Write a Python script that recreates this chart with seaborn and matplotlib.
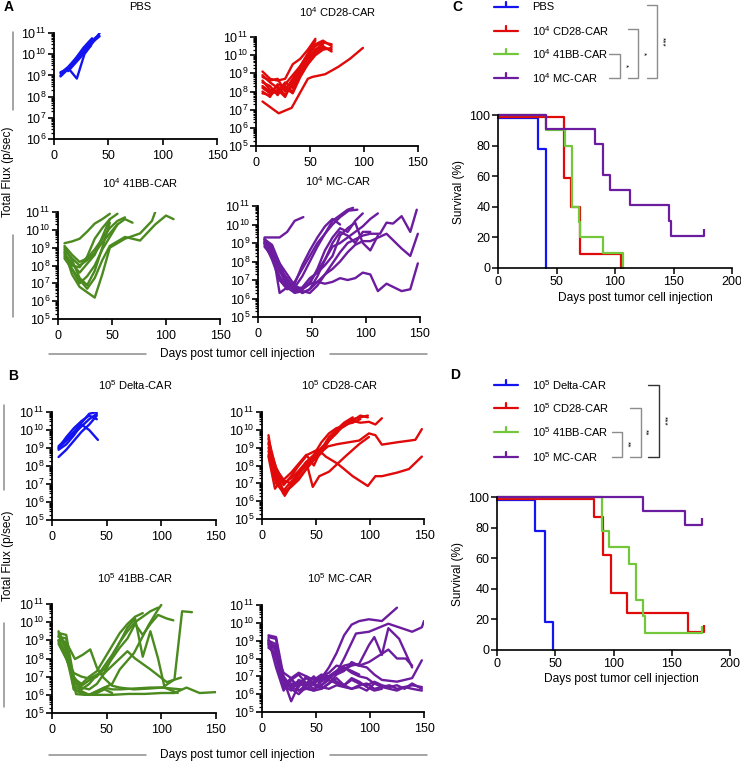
import numpy as np
import pandas as pd
import seaborn as sns
import matplotlib.pyplot as plt
from matplotlib.ticker import FixedLocator, LogLocator, FuncFormatter, NullFormatter

# ---- colours
BLUE = '#1414f0'
RED = '#e00a0a'
GREEN_FLUX = '#4b8a1e'
GREEN_SURV = '#72c83a'
PURPLE = '#6c1c9e'

# ---- A: 10^4 dose, bioluminescence (log10 total flux)
pbs_days = [
    [6, 13, 20, 27, 34, 41],
    [6, 13, 20, 27, 35],
    [6, 13, 21, 28, 42],
    [6, 13, 20, 27, 34, 42],
    [13, 20, 27, 34],
]
pbs_log = [
    [9.1, 9.4, 9.8, 10.2, 10.6, 10.9],
    [8.95, 9.3, 9.8, 10.3, 10.75],
    [9.0, 9.35, 8.85, 10.0, 11.0],
    [9.15, 9.3, 9.7, 10.1, 10.5, 10.85],
    [9.2, 9.6, 10.0, 10.4],
]

cd28_a_days = [
    [6, 13, 20, 27, 34, 41, 48, 55],
    [6, 13, 20, 27, 34, 41, 48, 55, 62, 70],
    [6, 13, 20, 27, 34, 41, 48, 55, 62],
    [6, 13, 20, 27, 34, 41, 48, 55, 62, 70],
    [6, 13, 20, 27, 34, 41, 48, 55, 62, 70],
    [6, 13, 20, 27, 34, 41, 48, 55],
    [6, 13, 20, 27, 34, 41, 48, 55, 62, 70],
    [6, 13, 20, 27, 34, 41, 48, 55, 62],
    [6, 13, 20, 27, 34, 41, 48, 55, 62, 70],
    [6, 21, 33, 48, 52, 64, 76, 87, 99],
]
cd28_a_log = [
    [9.1, 8.7, 8.6, 8.7, 9.5, 9.8, 10.3, 10.9],
    [8.9, 8.5, 8.2, 8.1, 8.7, 9.4, 10.0, 10.5, 10.7, 10.6],
    [8.6, 8.1, 7.9, 8.3, 8.0, 9.0, 9.8, 10.3, 10.6],
    [8.3, 8.0, 8.3, 7.8, 8.5, 9.2, 9.9, 10.6, 10.8, 10.5],
    [8.0, 7.7, 8.4, 8.2, 7.9, 8.8, 9.5, 10.2, 10.4, 10.3],
    [8.5, 8.3, 7.8, 8.4, 8.9, 9.4, 10.1, 10.8],
    [8.8, 8.6, 8.7, 8.0, 8.3, 9.0, 9.6, 10.1, 10.5, 10.2],
    [8.2, 7.9, 8.0, 8.5, 8.2, 8.9, 9.7, 10.3, 10.6],
    [7.9, 7.8, 8.1, 7.7, 8.6, 9.1, 9.5, 10.0, 10.3, 10.4],
    [7.45, 6.8, 7.1, 8.7, 8.8, 8.95, 9.35, 9.8, 10.4],
]

bb_a_days = [
    [6, 13, 20, 27, 34, 41, 48],
    [6, 13, 20, 27, 34, 41, 48, 55, 62],
    [6, 13, 20, 27, 34, 41, 48, 55, 62, 69],
    [6, 13, 20, 27, 34, 41, 48],
    [6, 13, 20, 27, 34, 41, 48, 55],
    [6, 13, 20, 27, 34, 41, 48, 62, 76, 87, 90],
    [6, 13, 20, 27, 34, 41, 48, 62, 76, 90, 100, 107],
    [6, 13, 20, 27, 34, 41, 48, 55],
    [6, 13, 20, 27, 34, 41, 48],
]
bb_a_log = [
    [9.25, 9.35, 9.5, 9.9, 10.35, 10.6, 10.9],
    [9.1, 8.6, 8.2, 8.4, 8.9, 9.5, 10.1, 10.5, 10.7],
    [8.9, 8.4, 8.0, 8.3, 8.7, 9.3, 9.8, 10.3, 10.6, 10.4],
    [8.7, 8.1, 7.6, 8.1, 8.6, 9.6, 10.6],
    [8.5, 7.8, 7.0, 7.4, 8.0, 8.9, 9.6, 10.3],
    [8.8, 7.5, 6.8, 6.5, 6.2, 7.5, 9.0, 9.5, 9.8, 10.5, 11.0],
    [8.4, 7.8, 7.2, 6.7, 7.3, 8.3, 9.1, 9.6, 9.4, 10.3, 10.8, 10.6],
    [8.6, 8.0, 7.9, 8.5, 9.5, 10.1, 10.6, 10.9],
    [9.0, 8.3, 7.3, 6.9, 7.7, 9.0, 10.4],
]

mc_a_days = [
    [6, 13, 20, 27, 34, 42],
    [6, 13, 20, 27, 34, 41, 48, 55, 62, 69, 76, 83, 88],
    [6, 13, 20, 27, 34, 41, 48, 55, 62, 69, 76, 84, 92],
    [6, 13, 20, 27, 34, 41, 48, 55, 62, 69, 76, 83, 90, 97, 104, 111],
    [6, 13, 20, 27, 34, 41, 48, 55, 62, 69, 76, 83, 90, 97, 104, 113, 119, 125, 133, 141, 147],
    [6, 13, 20, 27, 34, 41, 48, 55, 62, 69, 76, 83, 90, 97, 104, 119, 133, 141, 148],
    [6, 13, 20, 27, 34, 41, 48, 55, 62, 69, 76, 83, 90, 97, 104, 111, 119, 133, 141, 148],
    [6, 13, 20, 27, 34, 41, 48, 55, 62, 69, 76, 83, 90, 97, 104],
    [6, 13, 20, 27, 34, 41, 48, 55, 62, 69, 76],
    [6, 13, 20, 27, 34, 41, 48, 55, 62, 69, 76, 83, 90, 97, 104, 111],
    [6, 13, 20, 27, 34, 41, 48, 55, 62, 69, 76, 83, 90, 97],
]
mc_a_log = [
    [9.3, 9.3, 9.3, 9.6, 10.2, 10.4],
    [9.2, 8.8, 6.3, 6.6, 6.9, 7.6, 8.3, 9.0, 9.5, 10.2, 10.5, 10.8, 10.9],
    [9.0, 8.5, 7.5, 6.7, 6.6, 7.2, 8.0, 8.8, 9.5, 10.0, 10.4, 10.75, 10.8],
    [9.1, 8.6, 7.8, 6.9, 6.4, 6.5, 6.9, 7.5, 8.1, 8.8, 9.0, 9.3, 9.6, 9.9, 10.3, 10.6],
    [8.9, 8.2, 7.2, 6.6, 6.3, 6.4, 6.3, 6.7, 7.3, 7.9, 8.5, 9.0, 9.2, 9.4, 9.5, 9.5, 10.1, 10.05, 10.45, 9.6, 10.8],
    [9.0, 8.4, 7.0, 6.5, 6.6, 6.3, 6.5, 6.9, 7.3, 7.6, 8.0, 8.5, 8.9, 9.1, 9.1, 9.5, 8.7, 8.3, 9.5],
    [9.1, 8.5, 7.5, 6.9, 6.7, 6.5, 6.8, 6.9, 6.8, 6.9, 7.1, 7.0, 7.1, 7.4, 7.3, 6.4, 6.8, 6.4, 6.5, 7.9],
    [9.2, 8.9, 7.9, 7.3, 6.7, 6.3, 6.5, 7.2, 8.1, 9.0, 9.6, 9.4, 9.0, 9.6, 9.6],
    [9.0, 8.1, 7.0, 6.6, 6.8, 7.8, 8.6, 9.3, 9.9, 10.3, 10.0],
    [8.8, 8.3, 7.6, 7.1, 6.5, 6.6, 7.1, 7.4, 7.8, 8.3, 9.4, 9.8, 10.1, 9.0, 8.6, 9.4],
    [9.2, 8.7, 7.9, 6.8, 6.4, 6.5, 6.8, 7.6, 8.6, 9.3, 9.8, 9.6, 10.2, 10.6],
]

# ---- B: 10^5 dose
delta_days = [
    [6, 13, 20, 27, 34, 41],
    [6, 13, 20, 27, 34, 41],
    [6, 13, 20, 27, 34, 41],
    [6, 13, 20, 27, 34, 42],
    [6, 13, 20, 27, 34, 41],
]
delta_log = [
    [9.0, 9.4, 9.8, 10.2, 10.6, 10.9],
    [8.5, 8.9, 9.4, 9.9, 10.3, 10.8],
    [9.1, 9.5, 9.9, 10.4, 10.9, 11.0],
    [8.9, 9.2, 9.7, 10.3, 10.0, 9.45],
    [9.0, 9.6, 10.1, 10.5, 10.8, 10.6],
]

cd28_b_days = [
    [6, 10, 21, 27, 34, 41, 48, 55, 62, 69, 76, 84, 91, 98],
    [6, 12, 18, 27, 34, 41, 48, 55, 62, 69, 76, 84, 91, 99, 105, 111],
    [6, 13, 20, 27, 34, 42, 52, 59, 70, 84, 98, 105, 111, 125, 136, 148],
    [6, 13, 20, 27, 34, 41, 50, 61, 70, 80, 90, 99, 105, 111, 125, 142, 148],
    [6, 13, 20, 27, 34, 41, 47, 53, 62, 77, 90, 99],
    [6, 13, 20, 27, 34, 41, 48, 55, 62, 69, 76, 84, 91, 98],
    [6, 13, 20, 27, 34, 41, 48, 55, 62, 69, 76, 84, 91],
    [6, 13, 20, 27, 34, 41, 48, 55, 62, 69, 76, 84],
]
cd28_b_log = [
    [9.7, 8.1, 6.3, 6.9, 7.3, 7.8, 8.4, 8.8, 9.4, 9.9, 10.3, 10.6, 10.7, 10.8],
    [8.5, 6.7, 7.2, 7.0, 7.5, 8.0, 8.5, 9.0, 9.4, 9.9, 10.2, 10.5, 10.4, 10.45, 10.3, 10.65],
    [9.3, 7.6, 6.9, 7.4, 8.0, 8.6, 8.9, 8.5, 8.1, 7.4, 6.85, 7.4, 7.4, 7.6, 7.8, 8.5],
    [9.0, 7.4, 6.6, 7.1, 7.6, 8.1, 8.5, 9.07, 9.2, 9.3, 9.4, 9.8, 9.7, 9.17, 9.3, 9.44, 10.04],
    [8.8, 7.2, 6.4, 6.9, 7.5, 8.2, 6.8, 7.4, 7.65, 8.5, 9.2, 9.6],
    [9.2, 7.9, 7.0, 7.3, 7.7, 8.2, 8.6, 9.3, 9.8, 10.1, 10.2, 10.5, 10.8, 10.7],
    [8.6, 7.0, 6.5, 6.8, 7.2, 7.8, 8.3, 8.7, 9.4, 9.8, 10.3, 10.4, 10.6],
    [9.5, 7.8, 7.2, 7.6, 8.1, 8.6, 8.0, 8.9, 9.6, 10.0, 10.4, 10.7],
]

bb_b_days = [
    [6, 13, 22, 30, 44, 55, 70, 85, 100, 112, 123, 135, 150],
    [6, 13, 21, 28, 35, 41, 47, 55, 62, 75, 90, 100, 118],
    [6, 13, 20, 27, 34, 41, 48, 55, 62, 75, 88, 97, 100],
    [6, 13, 20, 27, 34, 41, 48, 55, 62, 69, 76, 83, 90, 97],
    [6, 13, 20, 27, 34, 41, 48, 55, 62, 69, 76, 83, 90, 97, 103, 115],
    [6, 13, 20, 27, 34, 41, 48, 55, 62, 69, 76, 83, 90, 97, 105, 111],
    [6, 13, 20, 27, 34, 41, 48, 55, 62, 76, 90, 101, 112, 119, 128],
    [6, 13, 20, 27, 34, 41, 48, 55, 62, 69, 76, 90, 105, 118],
    [6, 13, 20, 27, 34, 41, 48, 55, 62, 69, 76, 83],
    [6, 13, 20, 27, 34, 41, 48, 55],
]
bb_b_log = [
    [9.5, 8.6, 6.04, 6.0, 6.0, 6.0, 6.05, 6.05, 6.1, 6.1, 6.4, 6.1, 6.15],
    [9.0, 8.9, 7.97, 8.2, 8.5, 7.5, 6.95, 6.5, 6.4, 6.3, 6.35, 6.4, 6.3],
    [9.2, 9.1, 6.5, 6.2, 6.0, 6.2, 6.4, 6.6, 7.4, 8.3, 9.8, 10.7, 10.95],
    [8.8, 8.0, 6.8, 6.5, 6.8, 7.0, 7.6, 8.2, 8.9, 9.5, 10.0, 10.3, 10.6, 10.8],
    [9.3, 8.5, 7.0, 6.4, 6.3, 6.6, 7.2, 8.1, 8.9, 9.7, 10.2, 8.1, 9.5, 8.0, 6.4, 6.1],
    [9.0, 8.3, 6.7, 6.3, 6.6, 7.1, 7.4, 8.0, 8.6, 9.1, 9.9, 9.3, 9.9, 10.4, 10.2, 10.1],
    [9.0, 8.2, 6.3, 6.1, 6.0, 6.2, 6.4, 6.3, 6.3, 6.35, 6.4, 6.4, 6.85, 10.6, 10.55],
    [8.9, 8.0, 7.2, 7.0, 6.9, 7.1, 7.2, 7.6, 8.0, 8.4, 8.0, 7.4, 6.7, 6.95],
    [9.4, 9.3, 6.9, 6.6, 7.0, 7.3, 8.0, 8.7, 9.4, 9.9, 10.3, 10.5],
    [9.2, 8.8, 6.3, 6.1, 6.0, 6.1, 6.3, 6.1],
]

mc_b_days = [
    [6, 13, 20, 27, 34, 41, 48, 55, 62, 69, 76, 83, 90, 99, 111, 125],
    [6, 13, 20, 27, 34, 41, 48, 55, 62, 69, 76, 87, 99, 117, 139, 148, 150],
    [6, 13, 20, 27, 34, 41, 48, 55, 62, 69, 76, 83, 90, 99, 104, 111, 117, 127, 139],
    [6, 13, 20, 27, 34, 41, 48, 55, 62, 69, 76, 83, 90, 99, 117, 125, 133, 139],
    [6, 13, 20, 27, 34, 41, 48, 55, 62, 69, 76, 83, 90, 97, 104, 111, 118, 125, 132, 139, 148],
    [6, 13, 20, 27, 34, 41, 48, 55, 62, 69, 76, 83, 90, 97, 104, 111, 118, 125, 132, 139, 148],
    [6, 13, 20, 27, 34, 41, 48, 55, 62, 69, 76, 83, 90, 97, 104, 111, 125, 139, 148],
    [6, 13, 20, 27, 34, 41, 48, 55, 62, 69, 76, 83, 90, 97, 104, 111, 118, 125, 132, 139, 148],
    [6, 13, 20, 27, 34, 41, 48, 55, 62, 69, 76, 83, 90, 97, 104],
    [6, 13, 20, 27, 34, 41, 48, 55, 62, 69, 76, 83, 90, 97, 104, 111],
    [6, 13, 20, 27, 34, 41, 48, 55, 62, 69, 76, 83, 90],
]
mc_b_log = [
    [9.3, 9.2, 7.0, 6.4, 6.6, 6.5, 6.7, 6.9, 7.5, 8.3, 9.3, 9.9, 10.1, 10.2, 10.1, 10.85],
    [9.0, 8.8, 6.5, 6.2, 6.8, 6.6, 6.3, 6.5, 6.9, 7.2, 8.0, 9.4, 9.5, 9.95, 9.5, 9.75, 10.1],
    [8.8, 8.0, 6.3, 6.8, 7.1, 6.6, 6.9, 6.7, 7.0, 7.2, 7.4, 7.6, 7.7, 8.75, 9.2, 8.2, 9.7, 9.1, 7.5],
    [8.6, 8.3, 6.8, 5.6, 6.5, 6.9, 6.6, 6.9, 7.0, 7.3, 7.6, 7.7, 7.6, 7.8, 8.5, 8.0, 8.0, 7.6],
    [9.2, 9.1, 6.5, 6.4, 6.2, 6.3, 6.6, 6.4, 6.3, 6.5, 6.4, 6.3, 6.5, 6.6, 6.3, 6.4, 6.3, 6.2, 6.4, 6.3, 6.2],
    [8.9, 8.6, 6.9, 6.3, 6.0, 6.4, 6.2, 6.8, 7.0, 6.7, 6.5, 6.8, 6.6, 6.5, 6.7, 6.5, 6.4, 6.5, 6.3, 6.6, 6.3],
    [8.7, 8.2, 7.2, 6.9, 7.2, 7.0, 6.5, 6.3, 6.6, 7.1, 7.3, 7.8, 7.6, 7.5, 7.1, 6.8, 6.7, 6.9, 7.9],
    [9.0, 8.4, 6.6, 6.5, 6.7, 6.3, 6.2, 6.3, 6.6, 6.9, 6.5, 6.3, 6.4, 6.2, 6.6, 6.4, 6.5, 6.3, 6.4, 6.5, 6.4],
    [8.8, 8.7, 6.4, 6.6, 6.4, 7.0, 6.8, 7.1, 7.0, 7.3, 7.5, 7.2, 7.0, 6.9, 6.6],
    [9.1, 7.5, 6.2, 6.8, 6.5, 6.6, 7.0, 6.5, 6.8, 6.6, 6.5, 6.9, 6.7, 6.4, 6.2, 6.3],
    [8.9, 8.0, 6.5, 6.9, 6.2, 6.5, 6.7, 7.0, 7.2, 7.6, 7.5, 7.3, 7.1],
]

# ---- C / D: Kaplan-Meier steps (day of each step, percent surviving)
c_pbs_t, c_pbs_s = [0, 34, 41], [98, 78, 0]
c_cd28_t, c_cd28_s = [0, 56, 62, 70, 105], [99, 59, 40, 9, 0]
c_bb_t, c_bb_s = [0, 41, 57, 63, 69, 70, 90, 107], [100, 90, 80, 40, 30, 20, 10, 0]
c_mc_t, c_mc_s = [0, 41, 83, 90, 96, 113, 146, 148, 176], [100, 91, 81, 61, 51, 41, 31, 21, 21]

d_delta_t, d_delta_s = [0, 33, 41, 48], [98, 78, 18, 0]
d_cd28_t, d_cd28_s = [0, 83, 91, 98, 112, 164, 178], [99, 87, 62, 37, 24, 12, 12]
d_bb_t, d_bb_s = [0, 90, 96, 113, 119, 125, 127, 176], [100, 78, 67, 56, 33, 22, 11, 11]
d_mc_t, d_mc_s = [0, 125, 161, 176], [100, 91, 82, 82]

c_labels = ['PBS', r'$10^4$ CD28-CAR', r'$10^4$ 41BB-CAR', r'$10^4$ MC-CAR']
d_labels = [r'$10^5$ Delta-CAR', r'$10^5$ CD28-CAR', r'$10^5$ 41BB-CAR', r'$10^5$ MC-CAR']
surv_colors = [BLUE, RED, GREEN_SURV, PURPLE]

# ---- style
sns.set_theme(style="ticks", rc={
    'axes.edgecolor': 'black', 'xtick.color': 'black', 'ytick.color': 'black',
    'text.color': 'black', 'axes.labelcolor': 'black'})
plt.rcParams['font.family'] = ['Liberation Sans', 'DejaVu Sans']
plt.rcParams['font.size'] = 8
plt.rcParams['mathtext.default'] = 'regular'

TICK_FS = 9
LABEL_FS = 8.6

W, H = 741, 762
fig = plt.figure(figsize=(W / 100, H / 100), dpi=100)


def px_axes(left, top, right, bottom):
    return fig.add_axes([left / W, 1 - bottom / H, (right - left) / W, (bottom - top) / H])


def flux_panel(box, days, logs, color, ymin=5):
    ax = px_axes(*box)
    rows = []
    for i, (d, v) in enumerate(zip(days, logs)):
        for x, y in zip(d, v):
            rows.append((i, x, 10.0 ** y))
    df = pd.DataFrame(rows, columns=['mouse', 'day', 'flux'])
    sns.lineplot(data=df, x='day', y='flux', units='mouse', estimator=None,
                 color=color, lw=1.7, ax=ax, legend=False)
    ax.set_yscale('log')
    ax.set_ylim(10.0 ** ymin, 1e11)
    ax.set_xlim(0, 150)
    ax.set_xticks([0, 50, 100, 150])
    ax.yaxis.set_major_locator(FixedLocator(10.0 ** np.arange(ymin, 12)))
    ax.yaxis.set_minor_locator(LogLocator(base=10, subs=np.arange(2, 10), numticks=20))
    ax.yaxis.set_minor_formatter(NullFormatter())
    ax.yaxis.set_major_formatter(FuncFormatter(lambda v, p: r'$10^{%d}$' % round(np.log10(v))))
    ax.tick_params(axis='both', which='major', length=4, width=1.2, pad=1.5, labelsize=TICK_FS)
    ax.tick_params(axis='y', which='minor', length=2.5, width=0.9)
    ax.tick_params(axis='x', pad=4)
    ax.set_xlabel('')
    ax.set_ylabel('')
    sns.despine(ax=ax)
    for s in ['left', 'bottom']:
        ax.spines[s].set_linewidth(1.3)
    return ax


def surv_panel(box, curves, labels):
    ax = px_axes(*box)
    for (t, s), c, lab in zip(curves, surv_colors, labels):
        df = pd.DataFrame({'day': t, 'surv': s})
        sns.lineplot(data=df, x='day', y='surv', color=c, lw=1.6, estimator=None, sort=False,
                     drawstyle='steps-post', ax=ax, clip_on=False, label=lab, legend=False)
        if s[-1] > 0:
            ax.plot(t[-1], s[-1], marker=2, ms=5, mew=1.6, color=c, clip_on=False)
    ax.set_xlim(0, 200)
    ax.set_ylim(0, 100)
    ax.set_xticks([0, 50, 100, 150, 200])
    ax.set_yticks([0, 20, 40, 60, 80, 100])
    ax.tick_params(axis='both', length=4, width=1.1, pad=1.5, labelsize=TICK_FS)
    ax.set_xlabel('Days post tumor cell injection', fontsize=LABEL_FS, labelpad=0)
    ax.set_ylabel('Survival (%)', fontsize=LABEL_FS)
    sns.despine(ax=ax)
    for s in ['left', 'bottom']:
        ax.spines[s].set_linewidth(1.2)
    return ax


# flux panels (pixel boxes: left, top, right, bottom)
flux_panel((54, 33, 217, 139), pbs_days, pbs_log, BLUE, ymin=6)
flux_panel((256, 37, 418, 146), cd28_a_days, cd28_a_log, RED)
flux_panel((58, 212, 220, 319), bb_a_days, bb_a_log, GREEN_FLUX)
flux_panel((258, 206, 420, 317), mc_a_days, mc_a_log, PURPLE)
flux_panel((52, 412, 216, 520), delta_days, delta_log, BLUE)
flux_panel((262, 412, 424, 519), cd28_b_days, cd28_b_log, RED)
flux_panel((52, 604, 216, 713), bb_b_days, bb_b_log, GREEN_FLUX)
flux_panel((262, 605, 424, 712), mc_b_days, mc_b_log, PURPLE)

axc = surv_panel((498, 115, 732, 268),
                 [(c_pbs_t, c_pbs_s), (c_cd28_t, c_cd28_s), (c_bb_t, c_bb_s), (c_mc_t, c_mc_s)],
                 c_labels)
axc.xaxis.set_label_coords(0.585, -0.155)
axc.yaxis.set_label_coords(-0.14, 0.5)
axd = surv_panel((497, 497, 730, 650),
                 [(d_delta_t, d_delta_s), (d_cd28_t, d_cd28_s), (d_bb_t, d_bb_s), (d_mc_t, d_mc_s)],
                 d_labels)
axd.xaxis.set_label_coords(0.535, -0.15)
axd.yaxis.set_label_coords(-0.14, 0.5)

# ---- annotation layer in pixel coordinates
ov = fig.add_axes([0, 0, 1, 1])
ov.set_xlim(0, W)
ov.set_ylim(H, 0)
ov.axis('off')

for lab, x, y in [('A', 9, 7), ('B', 13, 376), ('C', 457, 7), ('D', 455, 375)]:
    ov.text(x, y, lab, fontsize=10, fontweight='bold', ha='center', va='center')

titles = [('PBS', 140, 7), (r'$10^4$ CD28-CAR', 338, 12), (r'$10^4$ 41BB-CAR', 140, 183),
          (r'$10^4$ MC-CAR', 338, 181), (r'$10^5$ Delta-CAR', 135, 385), (r'$10^5$ CD28-CAR', 340, 385),
          (r'$10^5$ 41BB-CAR', 135, 578), (r'$10^5$ MC-CAR', 340, 578)]
for t, x, y in titles:
    ov.text(x, y, t, fontsize=8, ha='center', va='center')

grey = '#8c8c8c'
# shared y labels with rules
for cy, lx, spans in [(172, 13, [(32, 110), (235, 317)]), (556, 4, [(405, 490), (623, 707)])]:
    ov.text(8, cy, 'Total Flux (p/sec)', fontsize=LABEL_FS, rotation=90, ha='center', va='center')
    for a, b in spans:
        ov.plot([lx, lx], [a, b], color=grey, lw=1.1)
# shared x labels with rules
for cy in [354, 755]:
    ov.text(237, cy, 'Days post tumor cell injection', fontsize=LABEL_FS, ha='center', va='center')
    ov.plot([49, 146], [cy, cy], color=grey, lw=1.1)
    ov.plot([330, 427], [cy, cy], color=grey, lw=1.1)


# survival legends
def legend_rows(ys, labels):
    for y, lab, c in zip(ys, labels, surv_colors):
        ov.plot([494, 518], [y, y], color=c, lw=1.6)
        ov.plot([506, 506], [y, y - 5], color=c, lw=1.6)
        ov.text(532, y, lab, fontsize=8, ha='left', va='center')


def bracket(x0, x1, y0, y1, stars, col, sx):
    ov.plot([x0, x1, x1, x0], [y0, y0, y1, y1], color=col, lw=1.0)
    ov.text(sx, (y0 + y1) / 2, stars, fontsize=6, rotation=-90, ha='center', va='center')


c_rows = [7, 31, 54, 78]
legend_rows(c_rows, c_labels)
bracket(609, 620, c_rows[2], c_rows[3], '*', grey, 625)
bracket(628, 638, c_rows[1] - 2, c_rows[3], '*', grey, 643)
bracket(647, 657, c_rows[0] - 2, c_rows[3], '***', grey, 662)

d_rows = [385, 408, 432, 457]
legend_rows(d_rows, d_labels)
bracket(612, 622, d_rows[2], d_rows[3], '**', grey, 627)
bracket(630, 641, d_rows[1], d_rows[3], '**', grey, 645)
bracket(648, 659, d_rows[0], d_rows[3], '***', '#333333', 664)

fig.savefig('out.png', dpi=100)
